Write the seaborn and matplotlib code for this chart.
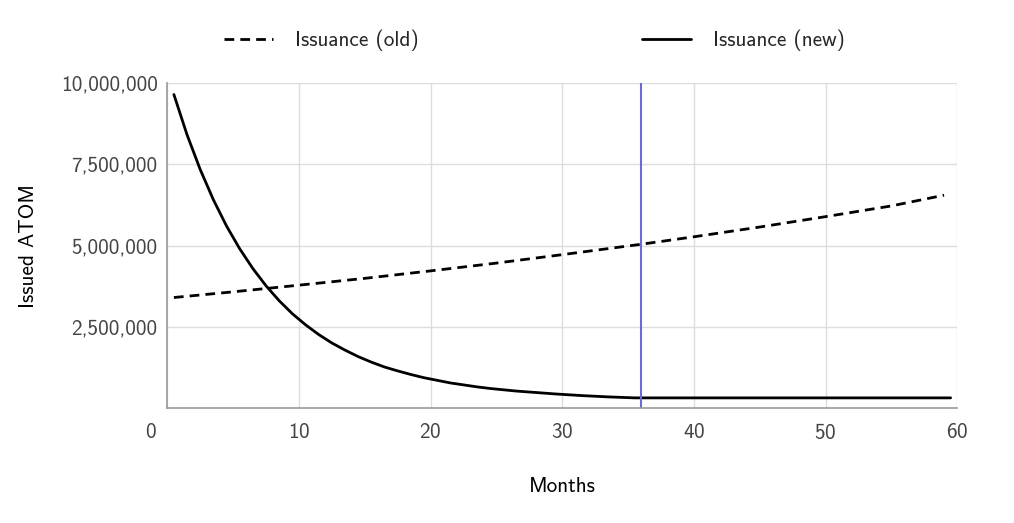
import numpy as np
import pandas as pd
import seaborn as sns
import matplotlib.pyplot as plt
import matplotlib.transforms as mtransforms
from matplotlib.ticker import FuncFormatter

# values (ATOM issued per month, mid-month positions)
months_new = [0.5, 1.5, 2.5, 3.5, 4.5, 5.5, 6.5, 7.5, 8.5, 9.5, 10.5, 11.5,
              12.5, 13.5, 14.5, 15.5, 16.5, 17.5, 18.5, 19.5, 20.5, 21.5,
              22.5, 23.5, 24.5, 25.5, 26.5, 27.5, 28.5, 29.5, 31.5, 33.5,
              35.5, 36, 40, 45, 50, 55, 59.5]
issuance_new = [9.65, 8.41, 7.34, 6.41, 5.60, 4.90, 4.29, 3.76, 3.30, 2.90,
                2.56, 2.26, 2.00, 1.78, 1.58, 1.41, 1.26, 1.14, 1.03, 0.93,
                0.85, 0.77, 0.71, 0.65, 0.60, 0.56, 0.52, 0.49, 0.46, 0.43,
                0.38, 0.34, 0.31, 0.31, 0.31, 0.31, 0.31, 0.31, 0.31]

months_old = [0.5, 5, 10, 15, 20, 25, 30, 36, 40, 45, 50, 55, 59]
issuance_old = [3.40, 3.575, 3.78, 3.99, 4.22, 4.46, 4.72, 5.04, 5.27, 5.57,
                5.89, 6.22, 6.55]

cutoff_month = 36

df_new = pd.DataFrame({'month': months_new, 'atom': np.array(issuance_new) * 1e6})
df_old = pd.DataFrame({'month': months_old, 'atom': np.array(issuance_old) * 1e6})

sns.set_theme(style="whitegrid")
plt.rcParams['font.family'] = ['cmss10', 'DejaVu Sans']
plt.rcParams['axes.formatter.use_mathtext'] = True

fig = plt.figure(figsize=(10.14, 5.23), dpi=100)
ax = fig.add_axes([0.165, 0.22, 0.779, 0.621])

sns.lineplot(data=df_old, x='month', y='atom', ax=ax, color='black',
             linewidth=2, linestyle=(0, (3.5, 2.2)), label='Issuance (old)')
sns.lineplot(data=df_new, x='month', y='atom', ax=ax, color='black',
             linewidth=2, label='Issuance (new)')
ax.axvline(cutoff_month, color='#6b6bd8', linewidth=1.5)

ax.set_xlim(0, 60)
ax.set_ylim(0, 10_000_000)
ax.set_xticks(range(0, 61, 10))
ax.set_yticks([2_500_000, 5_000_000, 7_500_000, 10_000_000])
ax.yaxis.set_major_formatter(FuncFormatter(lambda v, p: f'{int(v):,}'))
ax.tick_params(axis='both', labelsize=15.3, labelcolor='#444444', length=0, pad=7)
ax.tick_params(axis='x', pad=11)
first = ax.get_xticklabels()[0]
first.set_transform(first.get_transform() +
                    mtransforms.ScaledTranslation(-0.16, 0, fig.dpi_scale_trans))

ax.grid(True, color='#dddddd', linewidth=1)
for side in ['top', 'right']:
    ax.spines[side].set_visible(False)
for side in ['left', 'bottom']:
    ax.spines[side].set_color('#999999')
    ax.spines[side].set_linewidth(1.2)

ax.set_xlabel('Months', fontsize=15.3, color='black', labelpad=24)
ax.set_ylabel('Issued ATOM', fontsize=15.3, color='black', labelpad=16)

ax.get_legend().remove()
handles, labels = ax.get_legend_handles_labels()
fig.legend(handles, labels, loc='center', bbox_to_anchor=(0.527, 0.923),
           ncol=2, frameon=False, fontsize=15.3, handlelength=2.3,
           columnspacing=10.5, handletextpad=1.05)

fig.savefig('out.png', dpi=100)
